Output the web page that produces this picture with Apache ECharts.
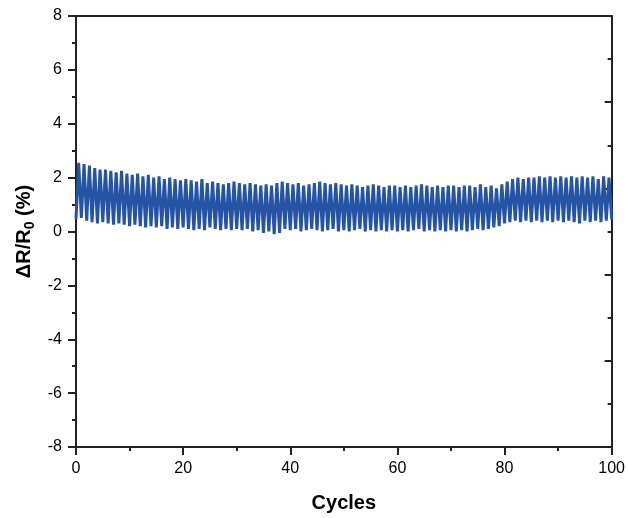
<!DOCTYPE html>
<html>
<head>
<meta charset="utf-8">
<script src="https://cdn.jsdelivr.net/npm/echarts@6/dist/echarts.min.js"></script>
<style>html,body{margin:0;padding:0;background:#fff}#c{width:628px;height:518px}</style>
</head>
<body>
<div id="c"></div>
<script>
// Peak value of each cycle (cycle i peaks near x = i + 0.5)
const peaks = [
  2.55, 2.5, 2.45, 2.35, 2.3, 2.3, 2.25, 2.2, 2.25, 2.15,
  2.1, 2.15, 2.05, 2.1, 2.0, 2.05, 1.95, 2.0, 1.95, 1.9,
  1.95, 1.9, 1.85, 1.95, 1.8, 1.85, 1.8, 1.75, 1.8, 1.85,
  1.8, 1.75, 1.8, 1.75, 1.7, 1.75, 1.7, 1.8, 1.85, 1.8,
  1.75, 1.8, 1.7, 1.75, 1.8, 1.85, 1.8, 1.75, 1.8, 1.75,
  1.7, 1.75, 1.7, 1.65, 1.7, 1.75, 1.7, 1.65, 1.7, 1.7,
  1.65, 1.7, 1.65, 1.7, 1.75, 1.7, 1.65, 1.7, 1.65, 1.7,
  1.7, 1.65, 1.7, 1.7, 1.65, 1.75, 1.65, 1.7, 1.6, 1.75,
  1.85, 1.95, 2.0, 1.95, 2.0, 2.0, 2.05, 2.0, 2.05, 2.0,
  2.05, 2.0, 2.05, 2.0, 2.05, 2.0, 2.05, 1.95, 2.05, 2.0
];
// Trough values at x = 0, 1, ..., 100
const troughs = [
  0.45, 0.5, 0.4, 0.35, 0.3, 0.35, 0.3, 0.25, 0.3, 0.25,
  0.2, 0.25, 0.2, 0.15, 0.2, 0.15, 0.2, 0.1, 0.15, 0.1,
  0.15, 0.1, 0.05, 0.1, 0.05, 0.15, 0.1, 0.05, 0.1, 0.05,
  0.1, 0.05, 0.1, 0.0, 0.05, -0.05, 0.0, -0.1, -0.05, 0.1,
  0.05, 0.1, 0.0, 0.05, 0.1, 0.05, 0.0, 0.05, 0.1, 0.0,
  0.05, 0.0, 0.05, 0.1, 0.0, 0.05, 0.0, 0.05, 0.0, 0.05,
  0.0, 0.05, 0.0, 0.05, 0.1, 0.0, 0.05, 0.0, 0.05, 0.0,
  0.05, 0.0, 0.05, 0.0, 0.05, 0.1, 0.05, 0.1, 0.15, 0.2,
  0.3, 0.35, 0.4, 0.35, 0.4, 0.35, 0.4, 0.35, 0.4, 0.35,
  0.4, 0.35, 0.4, 0.35, 0.3, 0.4, 0.35, 0.4, 0.35, 0.4,
  0.45
];
const xTicks = [0, 20, 40, 60, 80, 100];
const yTicks = [-8, -6, -4, -2, 0, 2, 4, 6, 8];

const data = [];
for (let i = 0; i < peaks.length; i++) {
  data.push([i, troughs[i]]);
  data.push([i + 0.5, peaks[i]]);
}
data.push([peaks.length, troughs[peaks.length]]);

const axisColor = '#222';
const font = 'Liberation Sans, Arial, sans-serif';
const chart = echarts.init(document.getElementById('c'), null, {renderer: 'canvas'});
chart.setOption({
  animation: false,
  grid: {left: 76, right: 16, top: 16, bottom: 71, show: false},
  xAxis: [{
    type: 'value', min: xTicks[0], max: xTicks[xTicks.length - 1], interval: 20,
    position: 'bottom',
    name: 'Cycles', nameLocation: 'middle', nameGap: 46,
    nameTextStyle: {fontSize: 20, fontWeight: 'bold', color: '#000', fontFamily: font},
    axisLine: {show: true, onZero: false, lineStyle: {color: axisColor, width: 2}},
    axisTick: {show: true, inside: false, length: 8, lineStyle: {color: axisColor, width: 2}},
    minorTick: {show: true, splitNumber: 2, length: 4, lineStyle: {color: axisColor, width: 2}},
    axisLabel: {fontSize: 16, color: '#000', margin: 14, fontFamily: font},
    splitLine: {show: false}
  }, {
    type: 'value', min: xTicks[0], max: xTicks[xTicks.length - 1], position: 'top',
    axisLine: {show: true, onZero: false, lineStyle: {color: axisColor, width: 2}},
    axisTick: {show: false}, axisLabel: {show: false}, splitLine: {show: false}
  }],
  yAxis: [{
    type: 'value', min: yTicks[0], max: yTicks[yTicks.length - 1], interval: 2,
    position: 'left',
    name: '{a|ΔR/R}{s|0}{a| (%)}', nameLocation: 'middle', nameGap: 38, nameRotate: 90,
    nameTextStyle: {
      rich: {
        a: {fontSize: 20, fontWeight: 'bold', color: '#000', fontFamily: font},
        s: {fontSize: 14, fontWeight: 'bold', color: '#000', fontFamily: font, padding: [10, 0, 0, 0]}
      }
    },
    axisLine: {show: true, onZero: false, lineStyle: {color: axisColor, width: 2}},
    axisTick: {show: true, inside: false, length: 8, lineStyle: {color: axisColor, width: 2}},
    minorTick: {show: true, splitNumber: 2, length: 4, lineStyle: {color: axisColor, width: 2}},
    axisLabel: {fontSize: 16, color: '#000', margin: 14, fontFamily: font},
    splitLine: {show: false}
  }, {
    type: 'value', min: 0, max: 100, interval: 20, position: 'right',
    axisLine: {show: true, onZero: false, lineStyle: {color: axisColor, width: 2}},
    axisTick: {show: true, inside: true, length: 7, lineStyle: {color: axisColor, width: 2}},
    minorTick: {show: true, splitNumber: 2, length: 4, lineStyle: {color: axisColor, width: 2}},
    axisLabel: {show: false}, splitLine: {show: false}
  }],
  series: [{
    type: 'line', data: data, xAxisIndex: 0, yAxisIndex: 0,
    showSymbol: false, symbol: 'none',
    lineStyle: {color: '#2554a5', width: 3},
    z: 1
  }]
});
</script>
</body>
</html>
